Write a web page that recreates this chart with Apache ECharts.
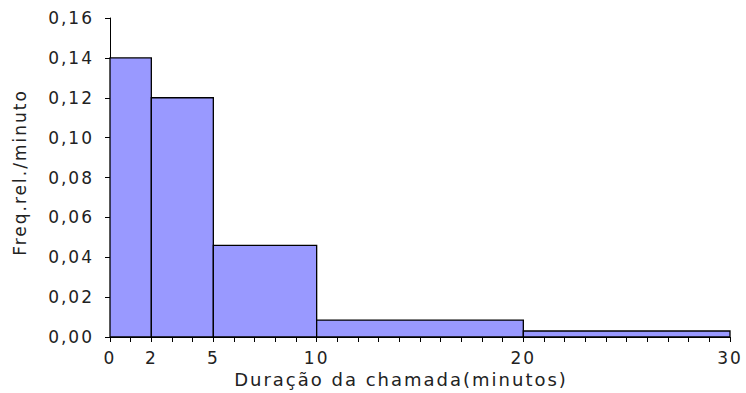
<!DOCTYPE html>
<html><head><meta charset="utf-8">
<script src="https://cdn.jsdelivr.net/npm/echarts@6/dist/echarts.min.js"></script>
<style>html,body{margin:0;padding:0;background:#fff}#c{width:746px;height:393px}#c text{letter-spacing:2px}</style>
</head><body><div id="c"></div>
<script>
const binStarts = [0, 2, 5, 10, 20];
const binEnds = [2, 5, 10, 20, 30];
const density = [0.14, 0.12, 0.046, 0.0085, 0.003];
const xLabels = [0, 2, 5, 10, 20, 30];
const yTicks = [0, 0.02, 0.04, 0.06, 0.08, 0.10, 0.12, 0.14, 0.16];

const data = binStarts.map((s, i) => [s, binEnds[i], density[i]]);
const font = '"DejaVu Sans", Verdana, sans-serif';
const chart = echarts.init(document.getElementById('c'), null, {renderer: 'svg'});
chart.setOption({
  animation: false,
  grid: {left: 110, top: 18, right: 16, bottom: 56, containLabel: false, outerBoundsMode: 'none'},
  xAxis: {
    type: 'value', min: 0, max: 30, interval: 1,
    name: 'Duração da chamada(minutos)', nameLocation: 'middle', nameGap: 31,
    nameTextStyle: {color: '#222', fontSize: 18, fontFamily: font, padding: [0, 38, 0, 0]},
    axisLine: {lineStyle: {color: '#000', width: 1}},
    axisTick: {show: true, length: 5, lineStyle: {color: '#000'}},
    splitLine: {show: false},
    axisLabel: {
      color: '#222', fontSize: 17, fontFamily: font, margin: 12,
      formatter: v => xLabels.includes(v) ? String(v) : '',
      showMinLabel: true, showMaxLabel: true, hideOverlap: false
    }
  },
  yAxis: {
    type: 'value', min: 0, max: 0.16, interval: 0.02,
    name: 'Freq.rel./minuto', nameLocation: 'middle', nameGap: 82,
    nameTextStyle: {color: '#222', fontSize: 17, fontFamily: font, padding: [0, 0, 0, 10]},
    axisLine: {show: true, lineStyle: {color: '#000', width: 1}},
    axisTick: {show: true, length: 5, lineStyle: {color: '#000'}},
    splitLine: {show: false},
    axisLabel: {
      color: '#222', fontSize: 17, fontFamily: font, margin: 16,
      formatter: v => v.toFixed(2).replace('.', ',')
    }
  },
  series: [{
    type: 'custom',
    data: data,
    encode: {x: [0, 1], y: 2},
    renderItem: function (params, api) {
      const p0 = api.coord([api.value(0), api.value(2)]);
      const p1 = api.coord([api.value(1), 0]);
      return {
        type: 'rect',
        shape: {x: p0[0], y: p0[1], width: p1[0] - p0[0], height: p1[1] - p0[1]},
        style: {fill: '#9999ff', stroke: '#000', lineWidth: 1.3}
      };
    }
  }]
});
</script></body></html>
